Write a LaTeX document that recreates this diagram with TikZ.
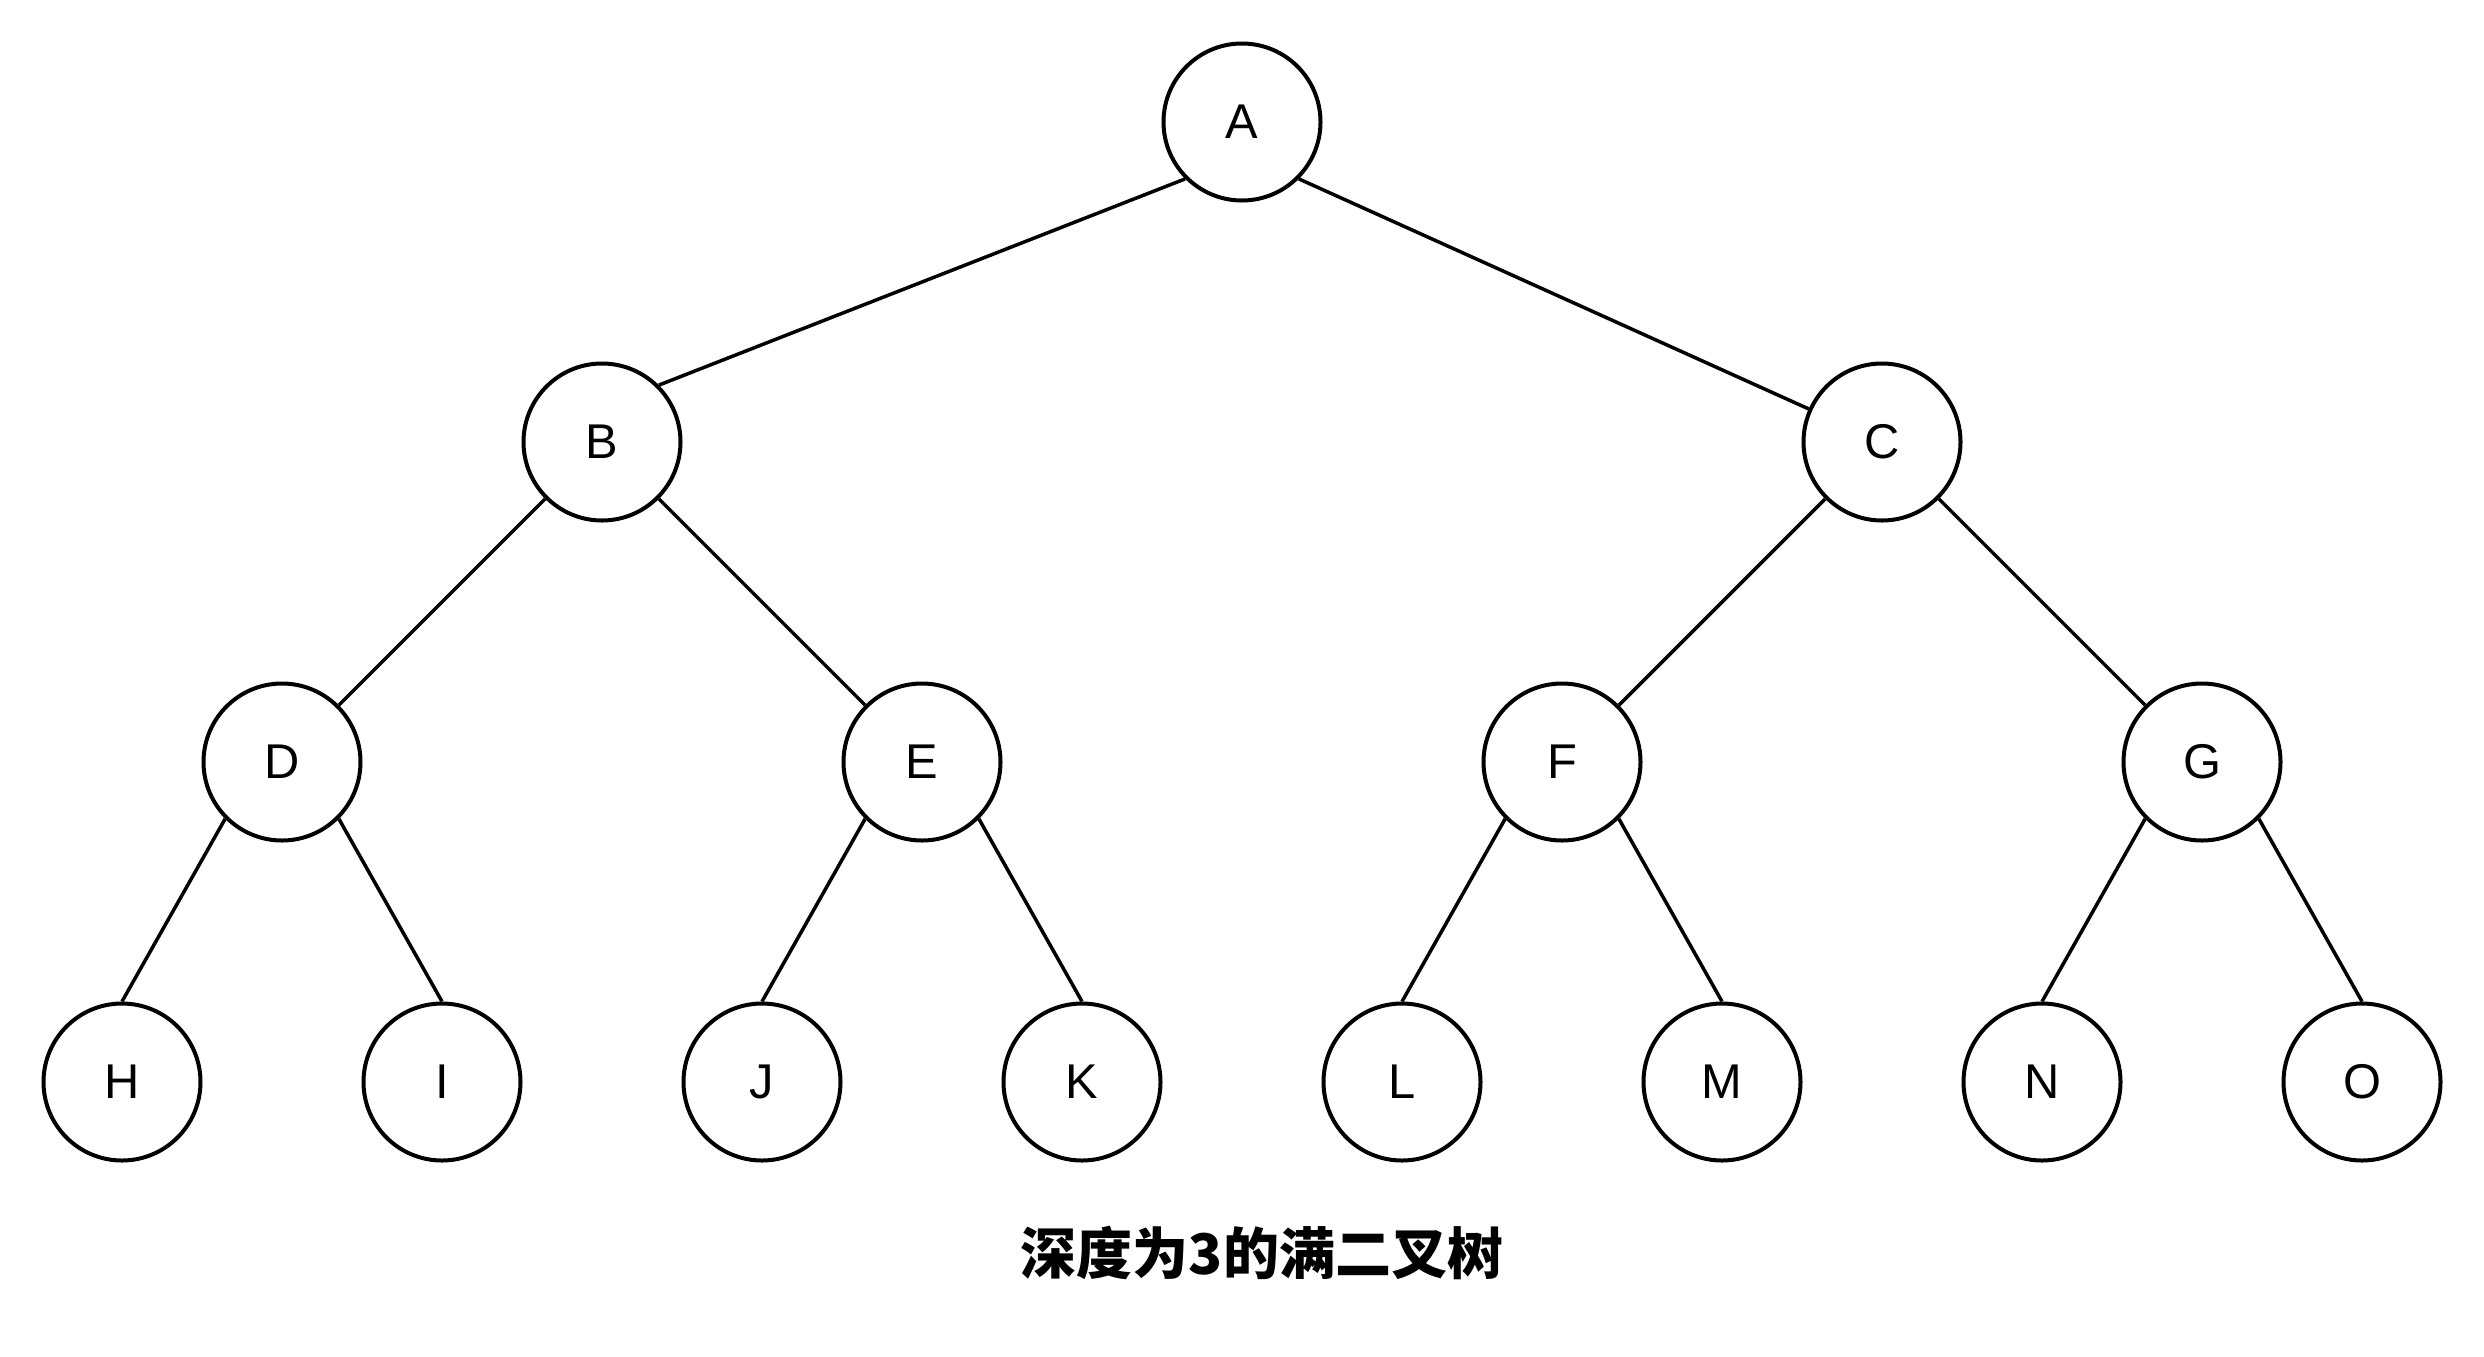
\documentclass[tikz,border=0pt]{standalone}
\usepackage{fontspec}
\setmainfont{Liberation Sans}
\newfontfamily\cjk{Noto Sans CJK SC}
\begin{document}
\begin{tikzpicture}[x=0.5pt,y=-0.5pt,
  tn/.style={circle,draw=black,fill=white,line width=2pt,minimum size=78.5pt,inner sep=0pt,
    font=\fontsize{24.4}{29}\selectfont},
  edge/.style={line width=1.75pt,draw=black}]
\useasboundingbox[fill=white] (0,0) rectangle (2484,1356);
% level 0
\node[tn] (A) at (1242,122) {A};
% level 1
\node[tn] (B) at (602,442) {B};
\node[tn] (C) at (1882,442) {C};
% level 2
\node[tn] (D) at (282,762) {D};
\node[tn] (E) at (922,762) {E};
\node[tn] (F) at (1562,762) {F};
\node[tn] (G) at (2202,762) {G};
% level 3
\node[tn] (H) at (122,1082) {H};
\node[tn] (I) at (442,1082) {I};
\node[tn] (J) at (762,1082) {J};
\node[tn] (K) at (1082,1082) {K};
\node[tn] (L) at (1402,1082) {L};
\node[tn] (M) at (1722,1082) {M};
\node[tn] (N) at (2042,1082) {N};
\node[tn] (O) at (2362,1082) {O};
% edges
\draw[edge] (A.225) -- (B.45);
\draw[edge] (A.315) -- (C);
\draw[edge] (B.225) -- (D.45);
\draw[edge] (B.315) -- (E.135);
\draw[edge] (C.225) -- (F.45);
\draw[edge] (C.315) -- (G.135);
\draw[edge] (D.225) -- (H.north);
\draw[edge] (D.315) -- (I.north);
\draw[edge] (E.225) -- (J.north);
\draw[edge] (E.315) -- (K.north);
\draw[edge] (F.225) -- (L.north);
\draw[edge] (F.315) -- (M.north);
\draw[edge] (G.225) -- (N.north);
\draw[edge] (G.315) -- (O.north);
% caption
\node[inner sep=0pt,font=\fontsize{28}{33}\selectfont] (cap) at (1262,1253) {\cjk\bfseries 深度为3的满二叉树};
\end{tikzpicture}
\end{document}
